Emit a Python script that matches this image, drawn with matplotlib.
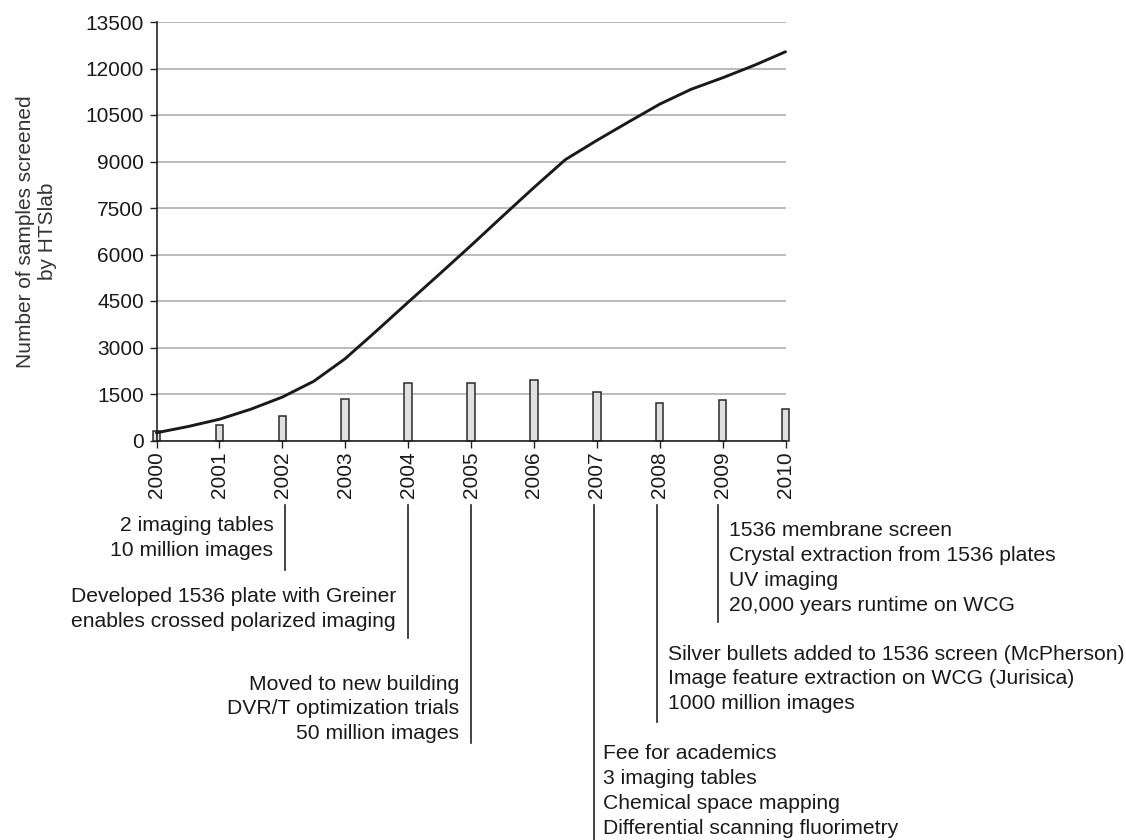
import matplotlib
matplotlib.use("Agg")
import matplotlib.pyplot as plt
from matplotlib.lines import Line2D
from matplotlib.transforms import blended_transform_factory, ScaledTranslation

plt.rcParams['font.family'] = ['Liberation Sans', 'DejaVu Sans']

years = [2000, 2001, 2002, 2003, 2004, 2005, 2006, 2007, 2008, 2009, 2010]
yearly_samples = [300, 500, 800, 1340, 1870, 1870, 1960, 1570, 1220, 1320, 1020]
curve_x = [2000.0, 2000.5, 2001.0, 2001.5, 2002.0, 2002.5, 2003.0, 2003.5, 2004.0,
           2004.5, 2005.0, 2005.5, 2006.0, 2006.5, 2007.0, 2007.5, 2008.0, 2008.5,
           2009.0, 2009.5, 2010.0]
cumulative_samples = [250, 450, 685, 1010, 1400, 1910, 2640, 3540, 4460, 5370, 6290,
                      7230, 8160, 9060, 9680, 10270, 10850, 11330, 11700, 12100, 12540]
y_ticks = [0, 1500, 3000, 4500, 6000, 7500, 9000, 10500, 12000, 13500]
y_label = "Number of samples screened\nby HTSlab"

milestone_years = [2002, 2004, 2005, 2007, 2008, 2009]
milestone_texts = [
    "2 imaging tables\n10 million images",
    "Developed 1536 plate with Greiner\nenables crossed polarized imaging",
    "Moved to new building\nDVR/T optimization trials\n50 million images",
    "Fee for academics\n3 imaging tables\nChemical space mapping\nDifferential scanning fluorimetry",
    "Silver bullets added to 1536 screen (McPherson)\nImage feature extraction on WCG (Jurisica)\n1000 million images",
    "1536 membrane screen\nCrystal extraction from 1536 plates\nUV imaging\n20,000 years runtime on WCG",
]

W, H = 1126, 840
fig = plt.figure(figsize=(W / 100, H / 100), dpi=100)
ax_l, ax_r, ax_t, ax_b = 156.5, 785.5, 22, 440.5
ax = fig.add_axes([ax_l / W, 1 - ax_b / H, (ax_r - ax_l) / W, (ax_b - ax_t) / H])

txt_color = '#1a1a1a'

ax.set_axisbelow(True)
ax.yaxis.grid(True, color='#a8a8a8', linewidth=1.1)
ax.bar(years, yearly_samples, width=0.12, color='#e0e0e0', edgecolor='#2a2a2a',
       linewidth=1.1, clip_on=False, zorder=2)
ax.plot(curve_x, cumulative_samples, color='#1a1a1a', linewidth=2.1, zorder=3,
        clip_on=False, solid_capstyle='round', solid_joinstyle='round')

ax.set_xlim(2000, 2010)
ax.set_ylim(0, 13500)
ax.set_yticks(y_ticks)
ax.set_yticklabels([str(v) for v in y_ticks], fontsize=15, color=txt_color)
ax.set_xticks(years)
ax.set_xticklabels([str(y) for y in years], rotation=90, fontsize=15, color=txt_color)
ax.tick_params(axis='both', direction='out', length=5, width=1, color='#222222', pad=3)
ax.tick_params(axis='y', pad=4)
for s in ['top', 'right']:
    ax.spines[s].set_visible(False)
for s in ['left', 'bottom']:
    ax.spines[s].set_color('#222222')
    ax.spines[s].set_linewidth(1.2)
ax.set_ylabel(y_label, fontsize=15, color='#333333', linespacing=1.2)
ax.yaxis.set_label_coords((57 - ax_l) / (ax_r - ax_l), 0.5)

# milestone annotations below the axis
trans = blended_transform_factory(ax.transData, fig.transFigure)
sides = ['right', 'right', 'right', 'left', 'left', 'left']
line_bottoms = [570, 638, 743, 840, 722, 622]
text_centers = [538, 609, 709, 791, 679, 568]
dx_px = [3, 0, 0, -3, -3, -5]
gaps = [12, 12, 12, 9, 11, 11]
for yr, txt, side, lb, tc, dx, g in zip(milestone_years, milestone_texts, sides,
                                         line_bottoms, text_centers, dx_px, gaps):
    t_line = trans + ScaledTranslation(dx / 100, 0, fig.dpi_scale_trans)
    fig.add_artist(Line2D([yr, yr], [1 - 505 / H, 1 - lb / H], transform=t_line,
                          color='#222222', linewidth=1.2))
    off = -g if side == 'right' else g
    t_txt = trans + ScaledTranslation((dx + off) / 100, 0, fig.dpi_scale_trans)
    fig.text(yr, 1 - tc / H, txt, transform=t_txt, ha=side, va='center',
             multialignment=side, fontsize=15.2, color=txt_color, linespacing=1.39)

fig.savefig("out.png", dpi=100)
